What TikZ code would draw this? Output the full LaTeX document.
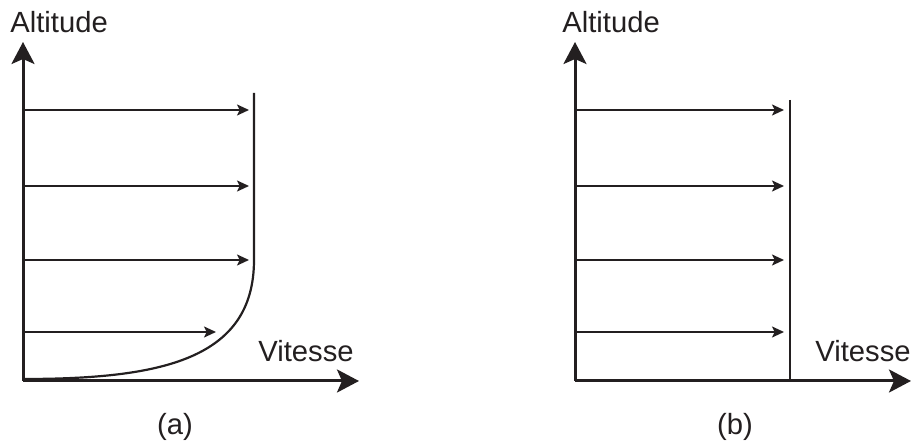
\documentclass[tikz,border=0pt]{standalone}
\usepackage{fontspec}
\setmainfont{Liberation Sans}
\usetikzlibrary{arrows.meta}
\definecolor{ink}{HTML}{231F20}
\begin{document}
\begin{tikzpicture}[x=0.5pt,y=-0.5pt,
  axis/.style={draw=ink,line width=1.5pt,-{Stealth[length=11pt,width=11.5pt,inset=2.5pt]}},
  flow/.style={draw=ink,line width=1.1pt,-{Stealth[length=6pt,width=5.5pt,inset=1.4pt]}},
  prof/.style={draw=ink,line width=1.1pt},
  lbl/.style={font=\fontsize{14.6}{17}\selectfont,text=ink,inner sep=0pt,anchor=base west}]
\useasboundingbox (0,0) rectangle (912,443);
% ---------- panel (a)
\coordinate (ao) at (23,381);
\coordinate (ay) at (23,42);
\coordinate (ax) at (359,381);
\draw[axis] (ao) -- (ay);
\draw[axis] (ao) -- (ax);
\node[lbl] (altA) at (10,33) {Altitude};
\node[lbl] (vitA) at (258,362) {Vitesse};
\node[lbl,anchor=base] (capA) at (175,435) {(a)};
\coordinate (aTop) at (254,93);
\coordinate (aBend) at (254,260);
\coordinate (aFoot) at (23,379);
\draw[prof] (aTop) -- (aBend) .. controls (254,360) and (160,379) .. (aFoot);
\foreach \y/\e in {110/249,186/249,260/249,332/216}{
  \coordinate (as\y) at (23,\y);
  \coordinate (ae\y) at (\e,\y);
  \draw[flow] (as\y) -- (ae\y);
}
% ---------- panel (b)
\coordinate (bo) at (575,381);
\coordinate (by) at (575,42);
\coordinate (bx) at (911,381);
\draw[axis] (bo) -- (by);
\draw[axis] (bo) -- (bx);
\node[lbl] (altB) at (562,33) {Altitude};
\node[lbl] (vitB) at (815,362) {Vitesse};
\node[lbl,anchor=base] (capB) at (735,435) {(b)};
\coordinate (bTop) at (790,100);
\coordinate (bBot) at (790,381);
\draw[prof] (bTop) -- (bBot);
\foreach \y in {110,186,260,332}{
  \coordinate (bs\y) at (575,\y);
  \coordinate (be\y) at (784,\y);
  \draw[flow] (bs\y) -- (be\y);
}
\end{tikzpicture}
\end{document}
